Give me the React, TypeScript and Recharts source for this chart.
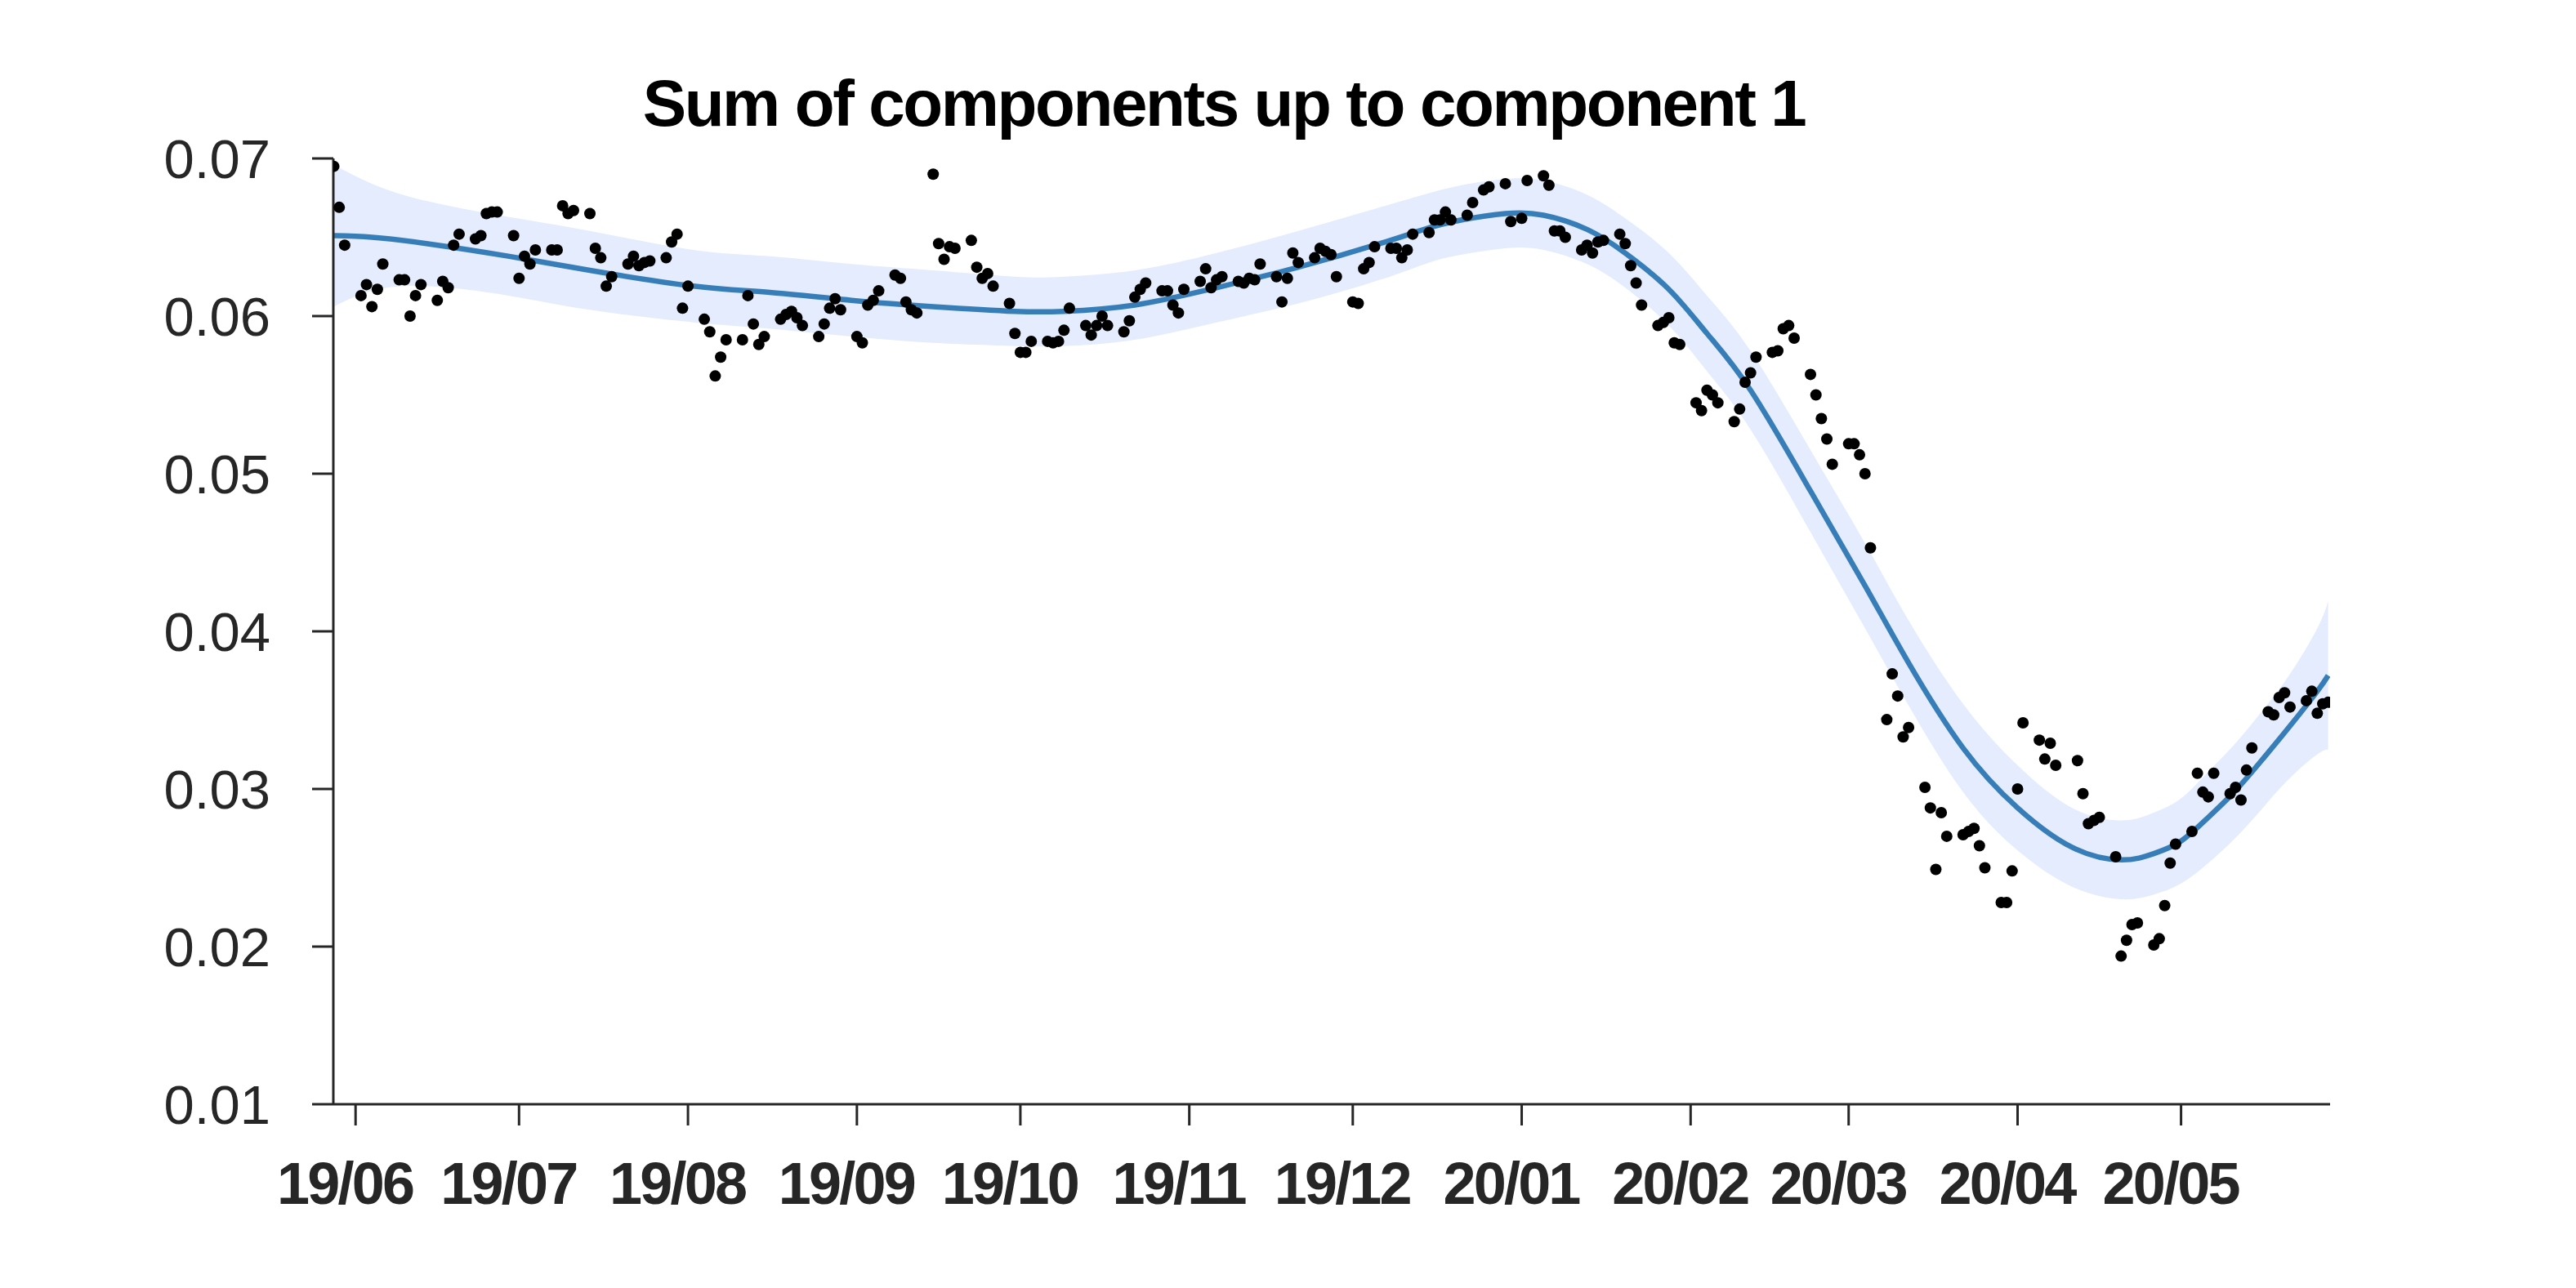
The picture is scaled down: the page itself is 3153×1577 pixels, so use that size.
import React from 'react';
import { ComposedChart, Area, Line, Scatter, XAxis, YAxis } from 'recharts';

const DAY = 86400000;
const toTs = (s: string) => {
  const [y, m, d] = s.split('-').map(Number);
  return Date.UTC(y, m - 1, d);
};

// Observed points (trading days, Sun–Thu)
const dotDates = [
  '2019-05-28','2019-05-29','2019-05-30',
  '2019-06-02','2019-06-03','2019-06-04','2019-06-05','2019-06-06','2019-06-09','2019-06-10','2019-06-11','2019-06-12','2019-06-13','2019-06-16','2019-06-17','2019-06-18','2019-06-19','2019-06-20','2019-06-23','2019-06-24','2019-06-25','2019-06-26','2019-06-27','2019-06-30',
  '2019-07-01','2019-07-02','2019-07-03','2019-07-04','2019-07-07','2019-07-08','2019-07-09','2019-07-10','2019-07-11','2019-07-14','2019-07-15','2019-07-16','2019-07-17','2019-07-18','2019-07-21','2019-07-22','2019-07-23','2019-07-24','2019-07-25','2019-07-28','2019-07-29','2019-07-30','2019-07-31',
  '2019-08-01','2019-08-04','2019-08-05','2019-08-06','2019-08-07','2019-08-08','2019-08-11','2019-08-12','2019-08-13','2019-08-14','2019-08-15','2019-08-18','2019-08-19','2019-08-20','2019-08-21','2019-08-22','2019-08-25','2019-08-26','2019-08-27','2019-08-28','2019-08-29',
  '2019-09-01','2019-09-02','2019-09-03','2019-09-04','2019-09-05','2019-09-08','2019-09-09','2019-09-10','2019-09-11','2019-09-12','2019-09-15','2019-09-16','2019-09-17','2019-09-18','2019-09-19','2019-09-22','2019-09-23','2019-09-24','2019-09-25','2019-09-26','2019-09-29','2019-09-30',
  '2019-10-01','2019-10-02','2019-10-03','2019-10-06','2019-10-07','2019-10-08','2019-10-09','2019-10-10','2019-10-13','2019-10-14','2019-10-15','2019-10-16','2019-10-17','2019-10-20','2019-10-21','2019-10-22','2019-10-23','2019-10-24','2019-10-27','2019-10-28','2019-10-29','2019-10-30','2019-10-31',
  '2019-11-03','2019-11-04','2019-11-05','2019-11-06','2019-11-07','2019-11-10','2019-11-11','2019-11-12','2019-11-13','2019-11-14','2019-11-17','2019-11-18','2019-11-19','2019-11-20','2019-11-21','2019-11-24','2019-11-25','2019-11-26','2019-11-27','2019-11-28',
  '2019-12-01','2019-12-02','2019-12-03','2019-12-04','2019-12-05','2019-12-08','2019-12-09','2019-12-10','2019-12-11','2019-12-12','2019-12-15','2019-12-16','2019-12-17','2019-12-18','2019-12-19','2019-12-22','2019-12-23','2019-12-25','2019-12-26','2019-12-29','2019-12-30',
  '2020-01-01','2020-01-02','2020-01-05','2020-01-06','2020-01-07','2020-01-08','2020-01-09','2020-01-12','2020-01-13','2020-01-14','2020-01-15','2020-01-16','2020-01-19','2020-01-20','2020-01-21','2020-01-22','2020-01-23','2020-01-26','2020-01-27','2020-01-28','2020-01-29','2020-01-30',
  '2020-02-02','2020-02-03','2020-02-04','2020-02-05','2020-02-06','2020-02-09','2020-02-10','2020-02-11','2020-02-12','2020-02-13','2020-02-16','2020-02-17','2020-02-18','2020-02-19','2020-02-20','2020-02-23','2020-02-24','2020-02-25','2020-02-26','2020-02-27',
  '2020-03-01','2020-03-02','2020-03-03','2020-03-04','2020-03-05','2020-03-08','2020-03-09','2020-03-10','2020-03-11','2020-03-12','2020-03-15','2020-03-16','2020-03-17','2020-03-18','2020-03-19','2020-03-22','2020-03-23','2020-03-24','2020-03-25','2020-03-26','2020-03-29','2020-03-30','2020-03-31',
  '2020-04-01','2020-04-02','2020-04-05','2020-04-06','2020-04-07','2020-04-08','2020-04-12','2020-04-13','2020-04-14','2020-04-15','2020-04-16','2020-04-19','2020-04-20','2020-04-21','2020-04-22','2020-04-23','2020-04-26','2020-04-27','2020-04-28','2020-04-29','2020-04-30',
  '2020-05-03','2020-05-04','2020-05-05','2020-05-06','2020-05-07','2020-05-10','2020-05-11','2020-05-12','2020-05-13','2020-05-14','2020-05-17','2020-05-18','2020-05-19','2020-05-20','2020-05-21','2020-05-24','2020-05-25','2020-05-26','2020-05-27','2020-05-28',
];

const dotValues = [
  0.0695, 0.0669, 0.0645,
  0.0613, 0.0620, 0.0606, 0.0617, 0.0633, 0.0623, 0.0623, 0.0600, 0.0613, 0.0620, 0.0610, 0.0622, 0.0618, 0.0645, 0.0652, 0.0649, 0.0651, 0.0665, 0.0666, 0.0666, 0.0651,
  0.0624, 0.0638, 0.0633, 0.0642, 0.0642, 0.0642, 0.0670, 0.0665, 0.0667, 0.0665, 0.0643, 0.0637, 0.0619, 0.0625, 0.0633, 0.0638, 0.0632, 0.0634, 0.0635, 0.0637, 0.0647, 0.0652, 0.0605,
  0.0619, 0.0598, 0.0590, 0.0562, 0.0574, 0.0585, 0.0585, 0.0613, 0.0595, 0.0582, 0.0587, 0.0598, 0.0601, 0.0603, 0.0599, 0.0594, 0.0587, 0.0595, 0.0605, 0.0611, 0.0604,
  0.0587, 0.0583, 0.0607, 0.0610, 0.0616, 0.0626, 0.0624, 0.0609, 0.0604, 0.0602, 0.0690, 0.0646, 0.0636, 0.0644, 0.0643, 0.0648, 0.0631, 0.0624, 0.0627, 0.0619, 0.0608, 0.0589,
  0.0577, 0.0577, 0.0584, 0.0584, 0.0583, 0.0584, 0.0591, 0.0605, 0.0594, 0.0588, 0.0594, 0.0600, 0.0594, 0.0590, 0.0597, 0.0612, 0.0617, 0.0621, 0.0616, 0.0616, 0.0607, 0.0602, 0.0617,
  0.0622, 0.0630, 0.0618, 0.0623, 0.0625, 0.0622, 0.0621, 0.0624, 0.0623, 0.0633, 0.0625, 0.0609, 0.0624, 0.0640, 0.0634, 0.0637, 0.0643, 0.0641, 0.0639, 0.0625,
  0.0609, 0.0608, 0.0630, 0.0634, 0.0644, 0.0643, 0.0643, 0.0637, 0.0642, 0.0652, 0.0653, 0.0661, 0.0661, 0.0666, 0.0661, 0.0664, 0.0672, 0.0680, 0.0682, 0.0684, 0.0660,
  0.0662, 0.0686, 0.0689, 0.0683, 0.0654, 0.0654, 0.0650, 0.0642, 0.0645, 0.0640, 0.0647, 0.0648, 0.0652, 0.0646, 0.0632, 0.0621, 0.0607, 0.0594, 0.0596, 0.0599, 0.0583, 0.0582,
  0.0545, 0.0540, 0.0553, 0.0550, 0.0545, 0.0533, 0.0541, 0.0558, 0.0564, 0.0574, 0.0577, 0.0578, 0.0592, 0.0594, 0.0586, 0.0563, 0.0550, 0.0535, 0.0522, 0.0506,
  0.0519, 0.0519, 0.0512, 0.0500, 0.0453, 0.0344, 0.0373, 0.0359, 0.0333, 0.0339, 0.0301, 0.0288, 0.0249, 0.0285, 0.0270, 0.0271, 0.0273, 0.0275, 0.0264, 0.0250, 0.0228, 0.0228, 0.0248,
  0.0300, 0.0342, 0.0331, 0.0319, 0.0329, 0.0315, 0.0318, 0.0297, 0.0278, 0.0280, 0.0282, 0.0257, 0.0194, 0.0204, 0.0214, 0.0215, 0.0201, 0.0205, 0.0226, 0.0253, 0.0265,
  0.0273, 0.0310, 0.0298, 0.0295, 0.0310, 0.0297, 0.0301, 0.0293, 0.0312, 0.0326, 0.0349, 0.0347, 0.0358, 0.0361, 0.0352, 0.0356, 0.0362, 0.0348, 0.0354, 0.0355,
];

// Fitted curve and its band
const curveDates = [
  '2019-05-28','2019-06-04','2019-06-14','2019-06-29','2019-07-14','2019-08-02','2019-08-16','2019-08-31',
  '2019-09-15','2019-09-30','2019-10-09','2019-10-22','2019-11-06','2019-11-21','2019-12-06','2019-12-15',
  '2019-12-21','2019-12-29','2020-01-05','2020-01-13','2020-01-20','2020-01-28','2020-02-04','2020-02-12',
  '2020-02-23','2020-03-04','2020-03-12','2020-03-22','2020-04-01','2020-04-11','2020-04-20','2020-04-26',
  '2020-05-01','2020-05-06','2020-05-11','2020-05-16','2020-05-21','2020-05-26','2020-05-28',
];
const fitValues = [
  0.0651, 0.0650, 0.0646, 0.0638, 0.0629, 0.0619, 0.0615, 0.0610,
  0.0606, 0.0603, 0.0603, 0.0607, 0.0618, 0.0631, 0.0646, 0.0656,
  0.0661, 0.0665, 0.0664, 0.0655, 0.0640, 0.0617, 0.0589, 0.0553,
  0.0489, 0.0429, 0.0380, 0.0326, 0.0288, 0.0263, 0.0255, 0.0259,
  0.0267, 0.0282, 0.0299, 0.0319, 0.0340, 0.0362, 0.0372,
];
const bandLow = [
  0.0606, 0.0616, 0.0619, 0.0613, 0.0604, 0.0596, 0.0592, 0.0587,
  0.0583, 0.0581, 0.0581, 0.0585, 0.0596, 0.0608, 0.0623, 0.0634,
  0.0639, 0.0643, 0.0642, 0.0633, 0.0618, 0.0594, 0.0565, 0.0528,
  0.0463, 0.0402, 0.0353, 0.0298, 0.0261, 0.0238, 0.0230, 0.0233,
  0.0240, 0.0253, 0.0269, 0.0288, 0.0307, 0.0322, 0.0325,
];
const bandHigh = [
  0.0696, 0.0684, 0.0673, 0.0663, 0.0654, 0.0642, 0.0638, 0.0633,
  0.0629, 0.0625, 0.0625, 0.0629, 0.0640, 0.0654, 0.0669, 0.0678,
  0.0683, 0.0687, 0.0686, 0.0677, 0.0662, 0.0640, 0.0613, 0.0578,
  0.0515, 0.0456, 0.0407, 0.0354, 0.0315, 0.0288, 0.0280, 0.0285,
  0.0294, 0.0311, 0.0329, 0.0350, 0.0373, 0.0402, 0.0419,
];

const tickDates = [
  '2019-06-01','2019-07-01','2019-08-01','2019-09-01','2019-10-01','2019-11-01',
  '2019-12-01','2020-01-01','2020-02-01','2020-03-01','2020-04-01','2020-05-01',
];
const tickLabels = ['19/06','19/07','19/08','19/09','19/10','19/11','19/12','20/01','20/02','20/03','20/04','20/05'];
const yTicks = [0.01, 0.02, 0.03, 0.04, 0.05, 0.06, 0.07];

const TITLE = 'Sum of components up to component 1';
const FONT = '"Liberation Sans", Arial, Helvetica, sans-serif';
const INK = '#262626';

const points = dotDates.map((d, i) => ({ t: toTs(d), v: dotValues[i] }));
const curve = curveDates.map((d, i) => ({ t: toTs(d), fit: fitValues[i], band: [bandLow[i], bandHigh[i]] }));
const xTicks = tickDates.map(toTs);
const xDomain = [toTs('2019-05-28') - 0.08 * DAY, toTs('2020-05-28') + 0.35 * DAY];

const W = 3145;
const H = 1569;

const XTick = (props: any) => {
  const { x, y, payload } = props;
  const idx = xTicks.indexOf(payload.value);
  return (
    <text x={x - 13} y={y} dy="0.71em" textAnchor="middle" fontSize={72} fontWeight="bold"
      fill={INK} fontFamily={FONT} letterSpacing={-2.8}>
      {idx >= 0 ? tickLabels[idx] : ''}
    </text>
  );
};

const YTick = (props: any) => {
  const { x, y, payload } = props;
  return (
    <text x={x} y={y} dy="0.355em" textAnchor="end" fontSize={67} fill={INK} fontFamily={FONT}>
      {Number(payload.value).toFixed(2)}
    </text>
  );
};

const Dot = (props: any) => {
  const { cx, cy } = props;
  if (cx == null || cy == null) return null;
  return <circle cx={cx} cy={cy} r={7} fill="#000" />;
};

export default function App() {
  return (
    <div style={{ position: 'relative', width: W, height: H, background: '#fff' }}>
      <ComposedChart width={W} height={H} margin={{ top: 186, right: 301, bottom: 75, left: 0 }}>
        <XAxis
          dataKey="t"
          type="number"
          scale="linear"
          domain={xDomain}
          allowDataOverflow
          ticks={xTicks}
          tick={<XTick />}
          tickSize={26}
          tickMargin={45}
          height={150}
          axisLine={{ stroke: INK, strokeWidth: 3 }}
          tickLine={{ stroke: INK, strokeWidth: 3 }}
        />
        <YAxis
          type="number"
          domain={[0.01, 0.07]}
          allowDataOverflow
          ticks={yTicks}
          tick={<YTick />}
          tickSize={26}
          tickMargin={51}
          width={400}
          axisLine={{ stroke: INK, strokeWidth: 3 }}
          tickLine={{ stroke: INK, strokeWidth: 3 }}
        />
        <Area
          data={curve}
          dataKey="band"
          type="natural"
          stroke="none"
          fill="#e4ecfd"
          fillOpacity={1}
          isAnimationActive={false}
          dot={false}
          activeDot={false}
        />
        <Line
          data={curve}
          dataKey="fit"
          type="natural"
          stroke="#377eb8"
          strokeWidth={6.5}
          dot={false}
          activeDot={false}
          isAnimationActive={false}
        />
        <Scatter data={points} dataKey="v" shape={<Dot />} isAnimationActive={false} />
      </ComposedChart>
      <svg width={W} height={H} style={{ position: 'absolute', left: 0, top: 0, pointerEvents: 'none' }}>
        <text x={1490} y={146} textAnchor="middle" fontSize={80} fontWeight="bold" fill="#000"
          fontFamily={FONT} letterSpacing={-2.4}>
          {TITLE}
        </text>
      </svg>
    </div>
  );
}
